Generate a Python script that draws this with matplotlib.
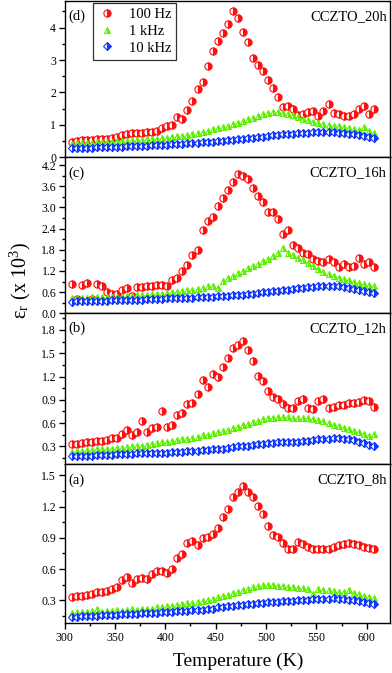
import numpy as np
import matplotlib
matplotlib.use('Agg')
import matplotlib.pyplot as plt
from matplotlib.ticker import MultipleLocator

plt.rcParams['font.family'] = ['Liberation Serif', 'DejaVu Serif']
plt.rcParams['mathtext.fontset'] = 'stix'

# Temperature grid (K)
temperature = [307, 312, 317, 322, 327, 332, 337, 342, 347, 352, 357, 362, 367, 372, 377,
               382, 387, 392, 397, 402, 407, 412, 417, 422, 427, 432, 437, 442, 447, 452,
               457, 462, 467, 472, 477, 482, 487, 492, 497, 502, 507, 512, 517, 522, 527,
               532, 537, 542, 547, 552, 557, 562, 567, 572, 577, 582, 587, 592, 597, 602, 607]

# (d) CCZTO_20h
d_100hz = [0.48, 0.50, 0.52, 0.53, 0.54, 0.55, 0.56, 0.57, 0.58, 0.62, 0.68, 0.72, 0.74, 0.75, 0.76,
           0.78, 0.79, 0.82, 0.90, 0.95, 1.00, 1.25, 1.17, 1.45, 1.73, 2.12, 2.33, 2.83, 3.27, 3.60,
           3.82, 4.10, 4.52, 4.29, 3.86, 3.56, 3.07, 2.86, 2.66, 2.37, 2.13, 1.86, 1.56, 1.58, 1.48,
           1.30, 1.35, 1.40, 1.42, 1.27, 1.43, 1.65, 1.38, 1.32, 1.27, 1.28, 1.32, 1.48, 1.58, 1.32, 1.48]
d_1khz = [0.42, 0.43, 0.44, 0.45, 0.45, 0.46, 0.47, 0.48, 0.48, 0.49, 0.50, 0.51, 0.52, 0.53, 0.54,
          0.55, 0.56, 0.57, 0.59, 0.61, 0.63, 0.65, 0.67, 0.70, 0.73, 0.76, 0.79, 0.82, 0.86, 0.90,
          0.94, 0.98, 1.02, 1.07, 1.12, 1.17, 1.22, 1.27, 1.32, 1.36, 1.39, 1.40, 1.38, 1.34, 1.29,
          1.24, 1.19, 1.14, 1.10, 1.06, 1.03, 1.00, 0.98, 0.95, 0.93, 0.90, 0.87, 0.85, 0.92, 0.80, 0.74]
d_10khz = [0.28, 0.29, 0.29, 0.30, 0.30, 0.31, 0.31, 0.32, 0.32, 0.33, 0.33, 0.34, 0.34, 0.35, 0.35,
           0.36, 0.37, 0.37, 0.38, 0.39, 0.40, 0.41, 0.42, 0.43, 0.44, 0.45, 0.46, 0.47, 0.48, 0.50,
           0.51, 0.52, 0.54, 0.55, 0.57, 0.58, 0.60, 0.62, 0.64, 0.66, 0.68, 0.70, 0.71, 0.72, 0.73,
           0.74, 0.75, 0.76, 0.77, 0.77, 0.78, 0.78, 0.77, 0.76, 0.75, 0.73, 0.71, 0.68, 0.65, 0.62, 0.59]

# (c) CCZTO_16h
c_100hz = [0.82, 0.40, 0.80, 0.86, 0.40, 0.84, 0.78, 0.60, 0.56, 0.55, 0.65, 0.72, 0.50, 0.74, 0.75,
           0.77, 0.78, 0.80, 0.79, 0.78, 0.95, 1.00, 1.20, 1.38, 1.65, 1.80, 2.36, 2.62, 2.74, 3.04,
           3.26, 3.49, 3.71, 3.95, 3.90, 3.80, 3.56, 3.32, 3.14, 2.86, 2.86, 2.67, 2.24, 2.36, 1.93,
           1.86, 1.70, 1.67, 1.54, 1.48, 1.45, 1.53, 1.44, 1.32, 1.39, 1.32, 1.35, 1.56, 1.39, 1.46, 1.32]
c_1khz = [0.42, 0.43, 0.44, 0.44, 0.45, 0.45, 0.46, 0.46, 0.47, 0.47, 0.48, 0.49, 0.50, 0.51, 0.52,
          0.53, 0.54, 0.55, 0.56, 0.57, 0.59, 0.61, 0.63, 0.65, 0.67, 0.70, 0.73, 0.76, 0.78, 0.72,
          0.92, 0.99, 1.06, 1.13, 1.20, 1.27, 1.34, 1.41, 1.48, 1.55, 1.62, 1.70, 1.84, 1.70, 1.64,
          1.58, 1.50, 1.42, 1.34, 1.26, 1.18, 1.12, 1.06, 1.01, 0.97, 0.93, 0.89, 0.86, 0.83, 0.80, 0.78]
c_10khz = [0.33, 0.34, 0.34, 0.35, 0.35, 0.35, 0.36, 0.36, 0.37, 0.37, 0.37, 0.38, 0.38, 0.39, 0.39,
           0.40, 0.40, 0.41, 0.41, 0.42, 0.42, 0.43, 0.43, 0.44, 0.44, 0.45, 0.46, 0.46, 0.47, 0.48,
           0.49, 0.50, 0.51, 0.52, 0.53, 0.55, 0.56, 0.57, 0.59, 0.60, 0.62, 0.64, 0.65, 0.67, 0.69,
           0.71, 0.72, 0.74, 0.75, 0.77, 0.78, 0.78, 0.77, 0.76, 0.74, 0.72, 0.70, 0.67, 0.64, 0.61, 0.58]

# (b) CCZTO_12h
b_100hz = [0.33, 0.33, 0.34, 0.35, 0.36, 0.37, 0.37, 0.38, 0.41, 0.41, 0.46, 0.51, 0.45, 0.49, 0.63,
           0.49, 0.54, 0.55, 0.75, 0.55, 0.58, 0.70, 0.73, 0.84, 0.86, 0.98, 1.15, 1.06, 1.23, 1.19,
           1.32, 1.44, 1.57, 1.60, 1.66, 1.54, 1.40, 1.21, 1.14, 1.01, 0.93, 0.91, 0.84, 0.80, 0.80,
           0.89, 0.91, 0.80, 0.78, 0.88, 0.91, 0.80, 0.81, 0.83, 0.83, 0.86, 0.86, 0.87, 0.90, 0.89, 0.81]
b_1khz = [0.23, 0.24, 0.24, 0.25, 0.25, 0.26, 0.26, 0.27, 0.27, 0.28, 0.28, 0.29, 0.30, 0.30, 0.31,
          0.32, 0.33, 0.34, 0.35, 0.36, 0.37, 0.38, 0.39, 0.40, 0.41, 0.42, 0.44, 0.45, 0.47, 0.48,
          0.50, 0.51, 0.53, 0.55, 0.57, 0.59, 0.61, 0.63, 0.65, 0.66, 0.67, 0.68, 0.68, 0.68, 0.67,
          0.67, 0.66, 0.66, 0.65, 0.64, 0.62, 0.60, 0.58, 0.56, 0.54, 0.52, 0.50, 0.48, 0.46, 0.43, 0.46]
b_10khz = [0.17, 0.17, 0.18, 0.18, 0.18, 0.19, 0.19, 0.19, 0.19, 0.20, 0.20, 0.20, 0.20, 0.21, 0.21,
           0.21, 0.21, 0.22, 0.22, 0.22, 0.23, 0.23, 0.23, 0.24, 0.24, 0.24, 0.25, 0.25, 0.26, 0.27,
           0.27, 0.28, 0.29, 0.30, 0.31, 0.31, 0.32, 0.33, 0.33, 0.34, 0.34, 0.35, 0.35, 0.35, 0.36,
           0.36, 0.37, 0.37, 0.38, 0.39, 0.40, 0.40, 0.41, 0.41, 0.40, 0.39, 0.38, 0.36, 0.34, 0.32, 0.30]

# (a) CCZTO_8h
a_100hz = [0.33, 0.34, 0.34, 0.35, 0.36, 0.38, 0.38, 0.39, 0.41, 0.43, 0.49, 0.52, 0.47, 0.50, 0.51,
           0.50, 0.55, 0.58, 0.58, 0.56, 0.60, 0.71, 0.74, 0.85, 0.87, 0.83, 0.90, 0.91, 0.94, 0.99,
           1.10, 1.18, 1.29, 1.34, 1.40, 1.34, 1.29, 1.21, 1.13, 1.01, 0.93, 0.91, 0.85, 0.79, 0.79,
           0.86, 0.84, 0.81, 0.79, 0.79, 0.79, 0.79, 0.81, 0.83, 0.84, 0.85, 0.84, 0.83, 0.81, 0.80, 0.79]
a_1khz = [0.18, 0.19, 0.19, 0.19, 0.20, 0.22, 0.19, 0.20, 0.20, 0.21, 0.20, 0.21, 0.22, 0.21, 0.22,
          0.22, 0.22, 0.23, 0.23, 0.24, 0.24, 0.25, 0.26, 0.27, 0.27, 0.28, 0.29, 0.30, 0.31, 0.33,
          0.34, 0.35, 0.37, 0.38, 0.40, 0.41, 0.43, 0.44, 0.45, 0.45, 0.45, 0.44, 0.44, 0.43, 0.43,
          0.42, 0.42, 0.41, 0.36, 0.41, 0.40, 0.40, 0.39, 0.38, 0.38, 0.40, 0.37, 0.36, 0.34, 0.33, 0.32]
a_10khz = [0.14, 0.14, 0.15, 0.15, 0.15, 0.15, 0.16, 0.16, 0.16, 0.16, 0.17, 0.17, 0.17, 0.17, 0.18,
           0.18, 0.18, 0.18, 0.19, 0.19, 0.19, 0.20, 0.20, 0.20, 0.21, 0.21, 0.21, 0.22, 0.22, 0.23,
           0.23, 0.24, 0.24, 0.25, 0.25, 0.26, 0.26, 0.27, 0.27, 0.28, 0.28, 0.28, 0.29, 0.29, 0.29,
           0.30, 0.30, 0.30, 0.31, 0.31, 0.31, 0.31, 0.32, 0.31, 0.31, 0.30, 0.30, 0.29, 0.28, 0.27, 0.26]

panel_letters = ['(d)', '(c)', '(b)', '(a)']
sample_names = ['CCZTO_20h', 'CCZTO_16h', 'CCZTO_12h', 'CCZTO_8h']
series_labels = ['100 Hz', '1 kHz', '10 kHz']
panel_data = [
    [d_100hz, d_1khz, d_10khz],
    [c_100hz, c_1khz, c_10khz],
    [b_100hz, b_1khz, b_10khz],
    [a_100hz, a_1khz, a_10khz],
]

# layout: pixel edges of each panel (top, bottom) in a 392x673 image
W, H = 392, 673
panel_edges = [(1, 157.3), (157.3, 313.3), (313.3, 464), (464, 623.3)]
ylims = [(0, 4.82), (0, 4.42), (0.072, 2.015), (0.078, 1.61)]
major_steps = [1, 0.6, 0.3, 0.3]
minor_steps = [0.5, 0.3, 0.15, 0.15]
tick_fmt = ['%d', '%.1f', '%.1f', '%.1f']

colors = ['#ff1010', '#5cf000', '#1238ff']
markers = ['o', '^', 'D']
sizes = [5.2, 5.0, 4.2]

fig = plt.figure(figsize=(W / 100, H / 100), dpi=100)
left, right = 64.5 / W, 390 / W

for k in range(4):
    top, bot = panel_edges[k]
    ax = fig.add_axes([left, 1 - bot / H, right - left, (bot - top) / H])
    for s in range(3):
        ax.plot(temperature, panel_data[k][s], linestyle='none', marker=markers[s],
                markersize=sizes[s], color=colors[s], markeredgecolor=colors[s],
                markeredgewidth=0.8, fillstyle='right', markerfacecoloralt='white',
                label=series_labels[s])
    ax.set_xlim(300, 623)
    ax.set_ylim(*ylims[k])
    ax.yaxis.set_major_locator(MultipleLocator(major_steps[k]))
    ax.yaxis.set_minor_locator(MultipleLocator(minor_steps[k]))
    ax.yaxis.set_major_formatter(matplotlib.ticker.FormatStrFormatter(tick_fmt[k]))
    ax.xaxis.set_major_locator(MultipleLocator(50))
    ax.xaxis.set_minor_locator(MultipleLocator(25))
    ax.tick_params(which='both', direction='out', labelsize=8.5, width=1.0, pad=2)
    ax.tick_params(which='major', length=4)
    ax.tick_params(which='minor', length=2.5)
    for sp in ax.spines.values():
        sp.set_linewidth(1.0)
    if k < 3:
        ax.tick_params(axis='x', which='both', bottom=False, labelbottom=False)
    ax.text(0.012, 0.9, panel_letters[k], transform=ax.transAxes, fontsize=10.5,
            ha='left', va='center')
    ax.text(0.99, 0.9, sample_names[k], transform=ax.transAxes, fontsize=10.5,
            ha='right', va='center')
    if k == 0:
        leg = ax.legend(loc='upper left', bbox_to_anchor=(0.088, 0.99), fontsize=10.5,
                        frameon=True, fancybox=False, edgecolor='black', borderpad=0.35,
                        handletextpad=0.9, labelspacing=0.25, handlelength=1.2,
                        borderaxespad=0)
        leg.get_frame().set_linewidth(0.9)

fig.text(238 / W, 1 - 661 / H, 'Temperature (K)', ha='center', va='center', fontsize=14)
fig.text(20 / W, 1 - 280 / H, r'ε$_\mathregular{r}$ (x 10$^\mathregular{3}$)', ha='center',
         va='center', rotation=90, fontsize=14.5)

plt.savefig('out.png', dpi=100)
plt.close()
